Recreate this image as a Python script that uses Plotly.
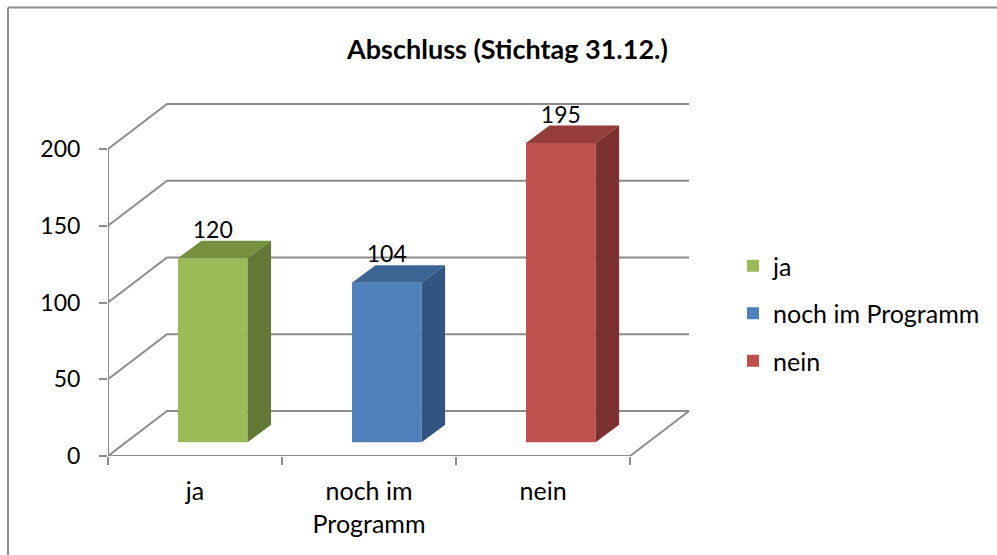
#!/usr/bin/env python3
"""Abschluss (Stichtag 31.12.) - Excel style 3D column chart"""

import plotly.graph_objects as go

categories = ['ja', 'noch im<br>Programm', 'nein']
names = ['ja', 'noch im Programm', 'nein']
values = [120, 104, 195]
y_ticks = [0, 50, 100, 150, 200]

front_colors = ['#9BBB59', '#4F81BD', '#C0504D']
top_colors = ['#769040', '#3C6593', '#953D3B']
side_colors = ['#637737', '#315480', '#7C3130']

GRAY = '#8C8C8C'
FONT = 'Lato'

# fake 3D: depth of the walls and of the columns, in axis units
WALL_DX, WALL_DY = 0.339, 29.3
BAR_DX, BAR_DY = 0.135, 11.4
BAR_BASE = 8.9
BAR_OFFSET, BAR_WIDTH = -0.098, 0.40

# plot area holds the walls too, so the axis lines are drawn as traces
X_RANGE = [-0.5, 2.85]
Y_RANGE = [0, 230]
X_END = 2.5

fig = go.Figure()

# walls and floor sit on the main axes, columns on the overlay so they cover them
for v in y_ticks:
    fig.add_trace(go.Scatter(
        x=[-0.5, -0.5 + WALL_DX, X_END + WALL_DX],
        y=[v, v + WALL_DY, v + WALL_DY],
        mode='lines', line=dict(color=GRAY, width=2),
        showlegend=False, hoverinfo='skip'
    ))
fig.add_trace(go.Scatter(
    x=[X_END + WALL_DX, X_END, -0.5, -0.5],
    y=[WALL_DY, 0, 0, max(y_ticks)],
    mode='lines', line=dict(color=GRAY, width=2),
    cliponaxis=False, showlegend=False, hoverinfo='skip'
))

for i, (name, v) in enumerate(zip(names, values)):
    fig.add_trace(go.Bar(
        x=[i], y=[v], base=BAR_BASE,
        offset=BAR_OFFSET, width=BAR_WIDTH,
        name=name, legendgroup=name,
        marker=dict(color=front_colors[i], line=dict(width=0)),
        xaxis='x2', yaxis='y2'
    ))
    left = i + BAR_OFFSET
    right = left + BAR_WIDTH
    bottom = BAR_BASE
    top = BAR_BASE + v
    # top face
    fig.add_trace(go.Scatter(
        x=[left, right, right + BAR_DX, left + BAR_DX, left],
        y=[top, top, top + BAR_DY, top + BAR_DY, top],
        mode='lines', fill='toself', fillcolor=top_colors[i], line=dict(width=0),
        showlegend=False, hoverinfo='skip', xaxis='x2', yaxis='y2'
    ))
    # side face
    fig.add_trace(go.Scatter(
        x=[right, right + BAR_DX, right + BAR_DX, right, right],
        y=[bottom, bottom + BAR_DY, top + BAR_DY, top, bottom],
        mode='lines', fill='toself', fillcolor=side_colors[i], line=dict(width=0),
        showlegend=False, hoverinfo='skip', xaxis='x2', yaxis='y2'
    ))

# data labels
fig.add_trace(go.Scatter(
    x=[i + BAR_OFFSET + BAR_WIDTH / 2 for i in range(len(values))],
    y=[BAR_BASE + v + 17 for v in values],
    text=[str(v) for v in values],
    mode='text', textposition='middle center',
    textfont=dict(family=FONT, size=23, color='black'),
    showlegend=False, hoverinfo='skip', xaxis='x2', yaxis='y2'
))

fig.update_layout(
    width=997, height=555,
    margin=dict(l=108, r=306, t=103, b=99),
    paper_bgcolor='white', plot_bgcolor='rgba(0,0,0,0)',
    barmode='overlay',
    font=dict(family=FONT, size=23, color='black'),
    title=dict(
        text='<b>Abschluss (Stichtag 31.12.)</b>',
        x=507.5 / 997, xanchor='center',
        y=1 - 50 / 555, yanchor='middle',
        font=dict(family=FONT, size=27, color='black')
    ),
    # ticks on the category boundaries come from the main axis, labels from the overlay
    xaxis=dict(
        range=X_RANGE, tickvals=[-0.5, 0.5, 1.5, 2.5], showticklabels=False,
        ticks='outside', ticklen=8, tickwidth=2, tickcolor=GRAY,
        showline=False, showgrid=False, zeroline=False
    ),
    yaxis=dict(
        range=Y_RANGE, tickvals=y_ticks, ticks='outside', ticklen=8, tickwidth=2,
        tickcolor=GRAY, showline=False, showgrid=False,
        zeroline=False, ticklabelstandoff=14
    ),
    xaxis2=dict(
        range=X_RANGE, overlaying='x', side='bottom', anchor='y2',
        tickvals=list(range(len(categories))), ticktext=categories, tickangle=0,
        ticks='', showline=False, showgrid=False, zeroline=False,
        tickfont=dict(family=FONT, size=25), ticklabelstandoff=18
    ),
    yaxis2=dict(range=Y_RANGE, overlaying='y', visible=False),
    legend=dict(
        x=(733 - 108) / 583, xanchor='left', y=(456 - 313.5) / 353, yanchor='middle',
        tracegroupgap=12, traceorder='grouped', bgcolor='rgba(0,0,0,0)',
        font=dict(family=FONT, size=25)
    ),
    shapes=[
        dict(type='line', xref='paper', yref='paper',
             x0=(8 - 108) / 583, x1=(8 - 108) / 583, y0=(456 - 555) / 353, y1=(456 - 7.5) / 353,
             line=dict(color=GRAY, width=2)),
        dict(type='line', xref='paper', yref='paper',
             x0=(8 - 108) / 583, x1=(997 - 108) / 583, y0=(456 - 7.5) / 353, y1=(456 - 7.5) / 353,
             line=dict(color=GRAY, width=2)),
    ],
)

# page margin would push the figure out of the window
fig.write_html("out.html", config={'displayModeBar': False},
               post_script="document.body.style.margin='0';")
